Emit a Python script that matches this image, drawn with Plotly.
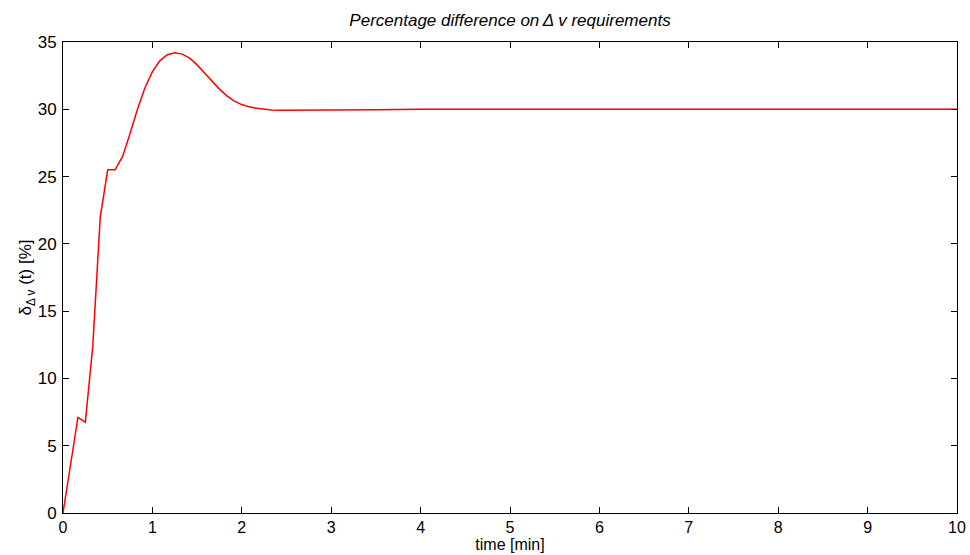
import plotly.graph_objects as go

# time [min] and percentage difference on delta-v requirements
time_min = [0.0, 0.083, 0.167, 0.25, 0.333, 0.417, 0.5, 0.583, 0.667, 0.75, 0.833,
            0.917, 1.0, 1.083, 1.167, 1.25, 1.333, 1.417, 1.5, 1.583, 1.667, 1.75,
            1.833, 1.917, 2.0, 2.083, 2.167, 2.25, 2.333, 2.417, 2.5, 2.75, 3.0,
            3.25, 3.5, 4.0, 5.0, 6.0, 7.0, 8.0, 9.0, 10.0]
delta_pct = [0.0, 3.6, 7.1, 6.75, 12.4, 22.0, 25.5, 25.5, 26.5, 28.2, 30.0,
             31.6, 32.8, 33.6, 34.05, 34.2, 34.1, 33.8, 33.3, 32.7, 32.1, 31.5,
             31.0, 30.6, 30.35, 30.18, 30.07, 30.0, 29.95, 29.93, 29.93, 29.93, 29.95,
             29.94, 29.96, 30.0, 30.0, 30.0, 30.0, 30.0, 30.0, 30.0]

x_ticks = list(range(0, 11))
y_ticks = list(range(0, 36, 5))

FONT = "Liberation Sans, Arial, sans-serif"

fig = go.Figure(go.Scatter(
    x=time_min, y=delta_pct, mode="lines",
    line=dict(color="#ff0000", width=1.5), showlegend=False,
))

axis_common = dict(
    showline=True, linecolor="black", linewidth=1, mirror="ticks",
    ticks="inside", ticklen=6, tickcolor="black", tickwidth=1,
    showgrid=False, zeroline=False, automargin=False,
)

fig.update_layout(
    width=970, height=555,
    margin=dict(l=63, r=13, t=42, b=42),
    plot_bgcolor="white", paper_bgcolor="white",
    font=dict(family=FONT, color="black"),
    title=dict(
        text="<i>Percentage difference on\u2009Δ v requirements</i>",
        x=0.5, xref="paper", xanchor="center", y=0.963, yanchor="middle",
        font=dict(size=17, color="black"),
    ),
    xaxis=dict(range=[0, 10], tickvals=x_ticks, ticklabelstandoff=0,
               tickfont=dict(family=FONT, size=16, color="black"),
               title=dict(text="time [min]", font=dict(size=16), standoff=0),
               **axis_common),
    yaxis=dict(range=[0, 35], tickvals=y_ticks, ticklabelstandoff=2,
               tickfont=dict(family=FONT, size=17, color="black"),
               title=dict(text="δ<sub>Δ v</sub> (t) [%]", font=dict(size=17), standoff=0),
               **axis_common),
)

fig.write_html("out.html")
